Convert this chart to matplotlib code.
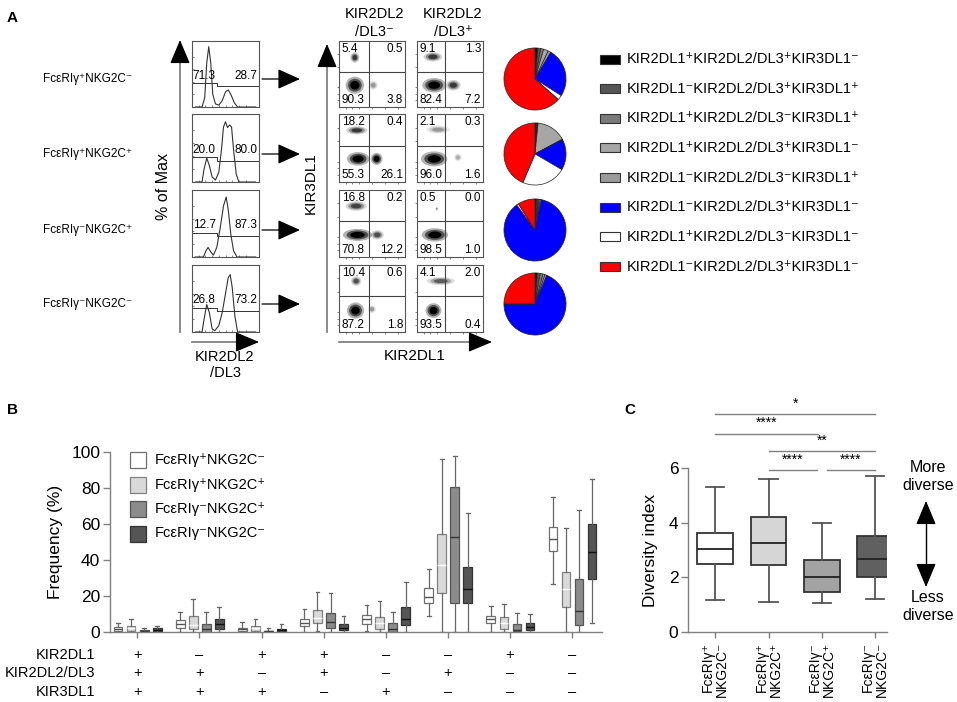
import matplotlib
matplotlib.use('Agg')
import matplotlib.pyplot as plt
from matplotlib.patches import Rectangle, Ellipse

plt.rcParams['font.family'] = ['Liberation Sans', 'DejaVu Sans']

# ---------------- data ----------------
groups = ['FcεRIγ⁺NKG2C⁻', 'FcεRIγ⁺NKG2C⁺', 'FcεRIγ⁻NKG2C⁺', 'FcεRIγ⁻NKG2C⁻']

# histogram outlines (KIR2DL2/DL3), relative units
hist_x = [
    [0.05, 0.15, 0.19, 0.22, 0.25, 0.28, 0.31, 0.35, 0.40, 0.45, 0.50, 0.54, 0.58, 0.63, 0.68, 0.95],
    [0.05, 0.15, 0.18, 0.22, 0.26, 0.30, 0.35, 0.40, 0.44, 0.47, 0.50, 0.53, 0.56, 0.59, 0.62, 0.66, 0.70, 0.95],
    [0.05, 0.17, 0.21, 0.24, 0.28, 0.32, 0.37, 0.42, 0.47, 0.51, 0.54, 0.58, 0.62, 0.67, 0.95],
    [0.05, 0.15, 0.18, 0.22, 0.26, 0.30, 0.34, 0.40, 0.45, 0.50, 0.54, 0.57, 0.60, 0.64, 0.68, 0.95],
]
hist_y = [
    [0.0, 0.0, 0.15, 0.70, 0.96, 0.70, 0.20, 0.05, 0.03, 0.10, 0.24, 0.27, 0.20, 0.07, 0.0, 0.0],
    [0.0, 0.0, 0.20, 0.37, 0.25, 0.08, 0.03, 0.15, 0.50, 0.85, 0.93, 0.84, 0.88, 0.85, 0.50, 0.12, 0.0, 0.0],
    [0.0, 0.0, 0.10, 0.15, 0.08, 0.03, 0.15, 0.45, 0.80, 0.94, 0.75, 0.35, 0.10, 0.0, 0.0],
    [0.0, 0.0, 0.20, 0.43, 0.30, 0.05, 0.02, 0.10, 0.30, 0.60, 0.85, 0.90, 0.70, 0.25, 0.0, 0.0],
]
gate_neg = ['71.3', '20.0', '12.7', '26.8']
gate_pos = ['28.7', '80.0', '87.3', '73.2']

# quadrant percentages: upper-left, upper-right, lower-left, lower-right
quad_neg = [['5.4', '0.5', '90.3', '3.8'], ['18.2', '0.4', '55.3', '26.1'],
            ['16.8', '0.2', '70.8', '12.2'], ['10.4', '0.6', '87.2', '1.8']]
quad_pos = [['9.1', '1.3', '82.4', '7.2'], ['2.1', '0.3', '96.0', '1.6'],
            ['0.5', '0.0', '98.5', '1.0'], ['4.1', '2.0', '93.5', '0.4']]

# dot clouds: (x centre, y centre, width, height, density)
clouds_neg = [
    [(0.24, 0.33, 0.28, 0.26, 1.0), (0.24, 0.75, 0.14, 0.16, 0.6), (0.52, 0.33, 0.14, 0.14, 0.25)],
    [(0.29, 0.34, 0.34, 0.20, 1.0), (0.57, 0.34, 0.18, 0.18, 0.9), (0.27, 0.76, 0.32, 0.12, 0.6)],
    [(0.28, 0.33, 0.44, 0.18, 1.0), (0.58, 0.33, 0.20, 0.14, 0.5), (0.26, 0.76, 0.32, 0.14, 0.55)],
    [(0.25, 0.32, 0.26, 0.24, 1.0), (0.26, 0.76, 0.16, 0.14, 0.5), (0.50, 0.34, 0.12, 0.12, 0.25)],
]
clouds_pos = [
    [(0.26, 0.33, 0.36, 0.22, 1.0), (0.55, 0.33, 0.22, 0.16, 0.6), (0.24, 0.76, 0.28, 0.14, 0.6)],
    [(0.26, 0.34, 0.40, 0.22, 1.0), (0.62, 0.36, 0.12, 0.12, 0.2), (0.32, 0.77, 0.36, 0.12, 0.25)],
    [(0.27, 0.33, 0.40, 0.20, 1.0), (0.30, 0.72, 0.04, 0.06, 0.3)],
    [(0.25, 0.32, 0.24, 0.22, 1.0), (0.36, 0.76, 0.42, 0.12, 0.45)],
]

# pie fractions per subset (legend order)
pie_labels = ['KIR2DL1⁺KIR2DL2/DL3⁺KIR3DL1⁻', 'KIR2DL1⁻KIR2DL2/DL3⁺KIR3DL1⁺',
              'KIR2DL1⁺KIR2DL2/DL3⁻KIR3DL1⁺', 'KIR2DL1⁺KIR2DL2/DL3⁺KIR3DL1⁻',
              'KIR2DL1⁻KIR2DL2/DL3⁻KIR3DL1⁺', 'KIR2DL1⁻KIR2DL2/DL3⁺KIR3DL1⁻',
              'KIR2DL1⁺KIR2DL2/DL3⁻KIR3DL1⁻', 'KIR2DL1⁻KIR2DL2/DL3⁺KIR3DL1⁻']
pie_colors = ['#000000', '#555555', '#7a7a7a', '#a6a6a6', '#9a9a9a', '#0000ff', '#ffffff', '#ff0000']
pie_fracs = [
    [1.5, 1.5, 1.5, 2.5, 1.5, 25.5, 2.5, 63.5],
    [1.0, 0.3, 0.3, 15.5, 0.3, 16.0, 23.0, 43.6],
    [0.8, 0.8, 0.6, 0.6, 0.6, 86.6, 1.0, 9.0],
    [1.2, 1.5, 1.5, 1.0, 1.0, 68.8, 0.0, 25.0],
]

# panel B: frequency (%) box statistics, rows = groups, cols = 8 KIR subsets
kir2dl1 = ['+', '–', '+', '+', '–', '–', '+', '–']
kir2dl2 = ['+', '+', '–', '+', '–', '+', '–', '–']
kir3dl1 = ['+', '+', '+', '–', '+', '–', '–', '–']
b_lo = [[0, 0, 0, 0, 0.5, 8.9, 0, 26.5],
        [0, 0, 0, 0.5, 0, 0, 0, 0],
        [0, 0, 0, 0, 0, 0, 0, 0],
        [0, 0, 0, 0, 0, 0, 0, 5.2]]
b_q1 = [[0.5, 2.4, 0.3, 3.5, 4.5, 16.0, 4.8, 45.2],
        [0.5, 1.5, 0.5, 4.8, 1.6, 21.5, 1.9, 14.0],
        [0.2, 0.0, 0.0, 2.2, 0.0, 16.0, 0.5, 3.9],
        [0.5, 1.5, 0.3, 1.0, 4.0, 16.3, 1.1, 29.6]]
b_med = [[1.5, 4.5, 1.5, 5.0, 7.2, 19.6, 7.0, 51.5],
         [2.0, 4.0, 2.0, 8.0, 5.0, 37.0, 4.8, 23.9],
         [0.5, 1.5, 0.3, 5.5, 1.5, 52.6, 1.3, 11.7],
         [1.2, 4.5, 1.0, 2.5, 7.2, 23.7, 3.0, 44.6]]
b_q3 = [[3.0, 6.7, 2.3, 7.2, 9.4, 24.6, 8.9, 58.5],
        [3.5, 9.0, 3.2, 12.0, 8.5, 54.4, 8.1, 33.5],
        [1.0, 4.5, 0.8, 10.5, 5.0, 80.4, 4.3, 29.4],
        [2.0, 7.5, 1.8, 4.4, 14.0, 36.0, 5.2, 59.8]]
b_hi = [[5.0, 11.0, 5.5, 12.6, 15.0, 35.0, 14.6, 75.0],
        [7.0, 18.4, 7.0, 22.0, 17.2, 96.0, 15.7, 58.0],
        [2.0, 11.0, 2.3, 21.8, 11.0, 97.8, 10.4, 67.8],
        [3.5, 14.0, 4.3, 9.0, 28.0, 66.0, 9.8, 85.0]]

# panel C: diversity index
c_lo = [1.16, 1.10, 1.07, 1.19]
c_q1 = [2.48, 2.45, 1.48, 2.03]
c_med = [3.03, 3.27, 2.02, 2.68]
c_q3 = [3.62, 4.19, 2.62, 3.50]
c_hi = [5.32, 5.58, 4.00, 5.70]
c_ticklabels = ['FcεRIγ⁺\nNKG2C⁻', 'FcεRIγ⁺\nNKG2C⁺', 'FcεRIγ⁻\nNKG2C⁺', 'FcεRIγ⁻\nNKG2C⁻']
c_sig = [(1, 4, 7.97, '*'), (1, 2.93, 7.26, '****'), (2, 4, 6.62, '**'),
         (2, 2.91, 5.94, '****'), (3.09, 4, 5.94, '****')]

# ---------------- layout helpers ----------------
W, H = 957, 702
fig = plt.figure(figsize=(W / 100, H / 100), dpi=100)


def px_axes(x0, y0, x1, y1):
    return fig.add_axes([x0 / W, 1 - y1 / H, (x1 - x0) / W, (y1 - y0) / H])


ov = px_axes(0, 0, W, H)
ov.set_xlim(0, W)
ov.set_ylim(H, 0)
ov.axis('off')
ov.set_zorder(10)


def arrow(x0, y0, x1, y1, color='black', lw=0.9, hl=1.0, hw=0.45, ms=14):
    ov.annotate('', xy=(x1, y1), xytext=(x0, y0),
                arrowprops=dict(arrowstyle=f'-|>,head_length={hl},head_width={hw}',
                                color=color, lw=lw, mutation_scale=ms,
                                shrinkA=0, shrinkB=0))


row_px = [(41, 107), (114, 182), (190, 257), (265, 332)]
row_mid = [79, 154, 230, 304]

# ---------------- panel A ----------------
ov.text(7, 18, 'A', fontsize=11, fontweight='bold', va='center')

for i in range(4):
    y0, y1 = row_px[i]
    ov.text(43, row_mid[i], groups[i], fontsize=8.5, va='center', ha='left')

    # histogram
    ah = px_axes(192, y0, 259, y1)
    ah.plot(hist_x[i], hist_y[i], color='#333333', lw=0.8)
    ah.plot([0, 0.37, 0.37, 1], [0.38, 0.38, 0.33, 0.33], color='#333333', lw=0.7)
    ah.text(0.18, 0.40, gate_neg[i], fontsize=8.5, ha='center', va='bottom')
    ah.text(0.80, 0.40, gate_pos[i], fontsize=8.5, ha='center', va='bottom')
    ah.set_xlim(0, 1)
    ah.set_ylim(0, 1.05)
    ah.set_xticks([0.1, 0.2, 0.3, 0.4, 0.5, 0.6, 0.7, 0.8])
    ah.set_yticks([0.2, 0.4, 0.6, 0.8])
    ah.tick_params(direction='in', length=1.5, width=0.5, labelbottom=False,
                   labelleft=False, colors='#555555')
    for s in ah.spines.values():
        s.set_color('#555555')
        s.set_linewidth(0.8)

    arrow(262, row_mid[i], 300, row_mid[i])

    # dot plots
    for (x0, x1, split, quads, clouds) in [(339, 405, 0.46, quad_neg[i], clouds_neg[i]),
                                           (417, 483, 0.42, quad_pos[i], clouds_pos[i])]:
        ad = px_axes(x0, y0, x1, y1)
        for (cx, cy, w, h, d) in clouds:
            for scale, a in [(1.0, 0.3), (0.75, 0.55), (0.5, 1.0)]:
                ad.add_patch(Ellipse((cx, cy), w * scale, h * scale, facecolor='black',
                                     edgecolor='none', alpha=min(1.0, a * d)))
        ad.axvline(split, color='#444444', lw=0.8)
        ad.axhline(0.53, color='#444444', lw=0.8)
        ad.text(0.04, 0.97, quads[0], fontsize=8.5, ha='left', va='top')
        ad.text(0.97, 0.97, quads[1], fontsize=8.5, ha='right', va='top')
        ad.text(0.04, 0.02, quads[2], fontsize=8.5, ha='left', va='bottom')
        ad.text(0.97, 0.02, quads[3], fontsize=8.5, ha='right', va='bottom')
        ad.set_xlim(0, 1)
        ad.set_ylim(0, 1)
        ad.set_xticks([0.1, 0.2, 0.3, 0.5, 0.7, 0.9])
        ad.set_yticks([0.1, 0.2, 0.3, 0.6, 0.8])
        ad.tick_params(direction='out', length=1.5, width=0.5, labelbottom=False,
                       labelleft=False, colors='#555555')
        for s in ad.spines.values():
            s.set_color('#555555')
            s.set_linewidth(0.8)

    # pie
    ap = px_axes(535 - 32, row_mid[i] - 32, 535 + 32, row_mid[i] + 32)
    ap.pie(pie_fracs[i], colors=pie_colors, startangle=90, counterclock=False,
           radius=0.97, wedgeprops=dict(edgecolor='#222222', linewidth=0.5))
    ap.set_xlim(-1, 1)
    ap.set_ylim(-1, 1)

# axis arrows for histograms
ov.plot([180, 180], [332, 56], color='#777777', lw=1.2)
arrow(180, 60, 180, 40, ms=15, hw=0.42)
ov.text(163, 187, '% of Max', fontsize=11.5, rotation=90, ha='center', va='center')
ov.plot([192, 245], [342, 342], color='#777777', lw=1.2)
arrow(242, 342, 259, 342, ms=15, hw=0.42)
ov.text(225, 365, 'KIR2DL2\n/DL3', fontsize=10.5, ha='center', va='center', linespacing=1.25)

# axis arrows for dot plots
ov.plot([327, 327], [332, 60], color='#777777', lw=1.2)
arrow(327, 64, 327, 44, ms=15, hw=0.42)
ov.text(311, 183, 'KIR3DL1', fontsize=11, rotation=90, ha='center', va='center')
ov.plot([339, 478], [342, 342], color='#777777', lw=1.2)
arrow(475, 342, 492, 342, ms=15, hw=0.42)
ov.text(415, 356, 'KIR2DL1', fontsize=11, ha='center', va='center')
ov.text(374, 23, 'KIR2DL2\n/DL3⁻', fontsize=10.5, ha='center', va='center', linespacing=1.3)
ov.text(453, 23, 'KIR2DL2\n/DL3⁺', fontsize=10.5, ha='center', va='center', linespacing=1.3)

# pie legend
for k in range(8):
    yk = 59 + k * 29.65
    ov.add_patch(Rectangle((600, yk - 4.5), 20, 9, facecolor=pie_colors[k],
                           edgecolor='#333333', lw=0.8))
    ov.text(627, yk, pie_labels[k], fontsize=10.5, va='center', ha='left')

# ---------------- panel B ----------------
ov.text(7, 410, 'B', fontsize=11, fontweight='bold', va='center')
axb = px_axes(110, 452, 602, 632)
b_face = ['#ffffff', '#d9d9d9', '#8c8c8c', '#555555']
b_edge = ['#707070', '#808080', '#555555', '#333333']
b_medc = ['#555555', '#ffffff', '#333333', '#111111']
offsets = [-0.31, -0.1, 0.11, 0.32]
cats = list(range(1, 9))
for g in range(4):
    stats = [dict(whislo=b_lo[g][c], q1=b_q1[g][c], med=b_med[g][c], q3=b_q3[g][c],
                  whishi=b_hi[g][c]) for c in range(8)]
    axb.bxp(stats, positions=[c + offsets[g] for c in cats], widths=0.14, capwidths=0.06,
            showfliers=False, patch_artist=True,
            boxprops=dict(facecolor=b_face[g], edgecolor=b_edge[g], lw=0.9),
            medianprops=dict(color=b_medc[g], lw=1.0),
            whiskerprops=dict(color='#666666', lw=0.9),
            capprops=dict(color='#666666', lw=0.9))
axb.set_xlim(0.56, 8.48)
axb.set_ylim(0, 100)
axb.set_yticks([0, 20, 40, 60, 80, 100])
axb.set_xticks(cats)
axb.set_xticklabels([])
axb.tick_params(axis='y', length=5, width=1, colors='#808080', labelcolor='black',
                labelsize=12.5, pad=2)
axb.tick_params(axis='x', length=4, width=1, colors='#808080')
for s in ['top', 'right']:
    axb.spines[s].set_visible(False)
for s in ['left', 'bottom']:
    axb.spines[s].set_color('#808080')
    axb.spines[s].set_linewidth(1.0)
axb.set_ylabel('Frequency (%)', fontsize=12.5, labelpad=6)
axb.patch.set_alpha(0)

for c in range(8):
    for sym, yf in [(kir2dl1[c], -0.128), (kir2dl2[c], -0.228), (kir3dl1[c], -0.333)]:
        axb.text(cats[c], yf, sym, fontsize=10.5, ha='center', va='center',
                 transform=axb.get_xaxis_transform())
ov.text(95, 655, 'KIR2DL1', fontsize=10.5, ha='right', va='center')
ov.text(95, 673, 'KIR2DL2/DL3', fontsize=10.5, ha='right', va='center')
ov.text(95, 692, 'KIR3DL1', fontsize=10.5, ha='right', va='center')

for g in range(4):
    yg = 460 + g * 24.5
    ov.add_patch(Rectangle((130, yg - 8), 16, 16, facecolor=b_face[g],
                           edgecolor=b_edge[g], lw=0.9))
    ov.text(155, yg, groups[g], fontsize=10.5, ha='left', va='center')

# ---------------- panel C ----------------
ov.text(624, 410, 'C', fontsize=11, fontweight='bold', va='center')
axc = px_axes(688, 468, 887, 632)
c_face = ['#ffffff', '#d6d6d6', '#a3a3a3', '#606060']
c_stats = [dict(whislo=c_lo[g], q1=c_q1[g], med=c_med[g], q3=c_q3[g], whishi=c_hi[g])
           for g in range(4)]
bp = axc.bxp(c_stats, positions=[1, 2, 3, 4], widths=0.67, capwidths=0.34,
             showfliers=False, patch_artist=True,
             boxprops=dict(edgecolor='#333333', lw=1.3),
             medianprops=dict(color='#222222', lw=1.3),
             whiskerprops=dict(color='#555555', lw=1.3),
             capprops=dict(color='#555555', lw=1.3))
for patch, col in zip(bp['boxes'], c_face):
    patch.set_facecolor(col)
axc.set_xlim(0.49, 4.22)
axc.set_ylim(0, 6)
axc.set_yticks([0, 2, 4, 6])
axc.set_xticks([1, 2, 3, 4])
axc.set_xticklabels(c_ticklabels, rotation=90, fontsize=10, linespacing=1.0,
                    multialignment='right')
axc.tick_params(axis='y', length=5, width=1, colors='#808080', labelcolor='black',
                labelsize=12.5, pad=2)
axc.tick_params(axis='x', length=4, width=1, colors='#808080', labelcolor='black', pad=3)
for s in ['top', 'right']:
    axc.spines[s].set_visible(False)
for s in ['left', 'bottom']:
    axc.spines[s].set_color('#808080')
    axc.spines[s].set_linewidth(1.0)
axc.set_ylabel('Diversity index', fontsize=12.5, labelpad=8)
axc.patch.set_alpha(0)

for (xa, xb, yl, txt) in c_sig:
    axc.plot([xa, xb], [yl, yl], color='#808080', lw=1.0, clip_on=False)
    axc.text((xa + xb) / 2, yl + 0.12, txt, fontsize=10, ha='center', va='bottom')

ov.text(928, 477, 'More\ndiverse', fontsize=11.5, ha='center', va='center', linespacing=1.25)
ov.text(928, 607, 'Less\ndiverse', fontsize=11.5, ha='center', va='center', linespacing=1.25)
ov.plot([926, 926], [515, 573], color='black', lw=1.0)
arrow(926, 520, 926, 501, ms=15, hw=0.42)
arrow(926, 568, 926, 587, ms=15, hw=0.42)

fig.savefig('out.png', dpi=100)
